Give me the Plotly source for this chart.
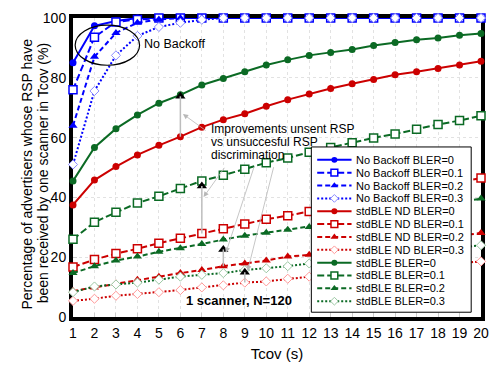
import plotly.graph_objects as go

x = list(range(1, 21))

nb0 = [85, 97.4, 99, 100] + [100] * 16
nb1 = [76, 93.6, 98.7, 99.5] + [100] * 16
nb2 = [64, 87, 95, 98.4, 99.5] + [100] * 15
nb3 = [51, 75.6, 87.5, 94, 97, 98.4, 99.4] + [100] * 13

nd0 = [37.5, 45.8, 50.3, 54.2, 57.4, 60.3, 63.5, 66, 68, 70.5, 72.7, 74.6, 76.4, 78, 79.4, 81, 82, 83.1, 84.3, 85.5]
nd1 = [16.7, 19.2, 21.2, 22.8, 24.7, 26.3, 27.9, 29.5, 31.1, 32.7, 33.9, 35.3, 36.7, 38.1, 39.5, 40.9, 42.3, 43.7, 45.1, 46.5]
nd2 = [8.7, 9.9, 11.2, 12.5, 13.5, 14.7, 15.7, 17, 17.9, 18.9, 20.2, 20.8, 21.7, 22.6, 23.5, 24.5, 25.4, 26.3, 27.2, 28.1]
nd3 = [5.4, 6.1, 7.1, 7.7, 8.3, 9, 9.9, 10.6, 11.5, 11.9, 12.8, 13.5, 14.1, 14.8, 15.4, 16.1, 16.7, 17.3, 18, 18.6]

sb0 = [45.5, 56.7, 63, 67.6, 71.5, 74.3, 77.6, 79.8, 82, 84.3, 86, 87.5, 88.5, 89.5, 90.8, 91.8, 92.7, 93.3, 94.2, 94.8]
sb1 = [26, 31.7, 35, 38.1, 40.4, 43, 45.5, 47.4, 49.4, 51.6, 53.2, 55.1, 56.7, 58.3, 59.9, 61.2, 62.8, 64.4, 65.7, 67.3]
sb2 = [14.7, 17, 18.9, 20.2, 21.8, 23, 24.4, 25.9, 27.2, 28.2, 29.2, 30.1, 31.3, 32.4, 33.6, 34.8, 36, 37.2, 38.4, 39.6]
sb3 = [8.3, 10.2, 10.9, 11.5, 12.5, 13.5, 14.1, 14.7, 15.7, 16.3, 17, 17.9, 18.7, 19.4, 20.2, 20.9, 21.7, 22.5, 23.2, 24]

names = ["No Backoff BLER=0", "No Backoff BLER=0.1", "No Backoff BLER=0.2", "No Backoff BLER=0.3",
         "stdBLE ND BLER=0", "stdBLE ND BLER=0.1", "stdBLE ND BLER=0.2", "stdBLE ND BLER=0.3",
         "stdBLE BLER=0", "stdBLE BLER=0.1", "stdBLE BLER=0.2", "stdBLE BLER=0.3"]
series = [nb0, nb1, nb2, nb3, nd0, nd1, nd2, nd3, sb0, sb1, sb2, sb3]

# improvement arrows
arrow_x = [6, 7, 8, 9]
arrow_from = [nd0, nd1, nd2, nd3]
arrow_to_head = [73.8, 43.8, 22.6, 15.0]

BLUE, RED, GREEN = "#0000ff", "#cc0000", "#0b6a24"
LIGHT = {BLUE: "#8c8cff", RED: "#ff9a9a", GREEN: "#9cc8a4"}
colors = [BLUE] * 4 + [RED] * 4 + [GREEN] * 4

styles = [
    dict(dash="solid", symbol="circle", size=7, open=False),
    dict(dash="7px,3px", symbol="square", size=8, open=True),
    dict(dash="5px,3px", symbol="triangle-up", size=8, open=False),
    dict(dash="2px,2px", symbol="diamond", size=7, open=True),
]

FONT = "Liberation Sans, Arial, sans-serif"
fig = go.Figure()


def marker_for(i, scale=1.0):
    c = colors[i]
    st = styles[i % 4]
    if st["open"]:
        return dict(symbol=st["symbol"], size=st["size"] * scale, color="white",
                    line=dict(color=(LIGHT[c] if i % 4 == 3 else c), width=(1.0 if i % 4 == 3 else 1.5)))
    return dict(symbol=st["symbol"], size=st["size"] * scale, color=c, line=dict(width=0))


for i, (nm, ys) in enumerate(zip(names, series)):
    fig.add_trace(go.Scatter(x=x, y=ys, name=nm, mode="lines+markers", showlegend=False,
                             line=dict(color=colors[i], width=2, dash=styles[i % 4]["dash"]),
                             marker=marker_for(i), cliponaxis=False))

shapes = []
for ax_, src, hy in zip(arrow_x, arrow_from, arrow_to_head):
    shapes.append(dict(type="line", xref="x", yref="y", x0=ax_, x1=ax_,
                       y0=src[ax_ - 1], y1=hy, line=dict(color="#bdbdbd", width=1.5), layer="above"))
fig.add_trace(go.Scatter(x=arrow_x, y=arrow_to_head, mode="markers", showlegend=False,
                         marker=dict(symbol="triangle-up", size=9, color="black"), hoverinfo="skip",
                         cliponaxis=False))

shapes.append(dict(type="circle", xref="x", yref="y", x0=1.1, x1=4.1, y0=84.2, y1=97.6,
                   line=dict(color="black", width=1.2)))

annotations = []
annotations.append(dict(x=4.2, y=91.3, xref="x", yref="y", text="No Backoff", showarrow=False,
                        xanchor="left", font=dict(family=FONT, size=12.5, color="black")))
imp_lines = ["Improvements unsent RSP", "vs unsuccesful RSP", "discrimination"]
imp_y = [62.8, 58.5, 54.2]
for t, yy in zip(imp_lines, imp_y):
    annotations.append(dict(x=7.35, y=yy, xref="x", yref="y", text=t, showarrow=False,
                            xanchor="left", font=dict(family=FONT, size=12, color="black")))

# pointer lines from text to arrows (head, tail)
ptr_head = [(6.12, 67.9), (7.08, 40.1), (8.12, 21.5), (9.13, 15.4)]
ptr_tail = [(7.25, 62.0), (8.1, 50.4), (9.45, 50.6), (10.36, 50.6)]
for (hx, hy), (tx, ty) in zip(ptr_head, ptr_tail):
    annotations.append(dict(x=hx, y=hy, ax=tx, ay=ty, xref="x", yref="y", axref="x", ayref="y",
                            text="", showarrow=True, arrowhead=2, arrowsize=1.3, arrowwidth=0.8,
                            arrowcolor="#b8b8b8"))

annotations.append(dict(x=8.72, y=5.4, xref="x", yref="y", text="<b>1 scanner, N=120</b>",
                        showarrow=False, font=dict(family=FONT, size=13, color="black")))

# ---- custom legend on an overlay axis measured in pixels ----
LX0, LX1, LY0, LY1 = 316, 479, 147, 320
fig.add_trace(go.Scatter(x=[LX0, LX1, LX1, LX0, LX0], y=[LY0, LY0, LY1, LY1, LY0], mode="lines",
                         fill="toself", fillcolor="white", line=dict(color="black", width=1),
                         xaxis="x2", yaxis="y2", showlegend=False, hoverinfo="skip"))
for i, nm in enumerate(names):
    yc = 160.5 + i * 13.45
    fig.add_trace(go.Scatter(x=[322, 339.5, 357], y=[yc, yc, yc], mode="lines",
                             line=dict(color=colors[i], width=2, dash=styles[i % 4]["dash"]),
                             xaxis="x2", yaxis="y2", showlegend=False, hoverinfo="skip"))
    fig.add_trace(go.Scatter(x=[339.5], y=[yc], mode="markers", marker=marker_for(i, 0.85),
                             xaxis="x2", yaxis="y2", showlegend=False, hoverinfo="skip"))
    annotations.append(dict(x=360, y=yc, xref="x2", yref="y2", text=nm, showarrow=False,
                            xanchor="left", yanchor="middle",
                            font=dict(family=FONT, size=11, color="black")))

# y-axis title as two rotated lines
ytitle = ["Percentage of advertisers whose RSP have", "been received by one scanner in Tcov (%)"]
for t, px in zip(ytitle, [26, 42]):
    annotations.append(dict(x=(px - 73) / 416, y=(325 - 175) / 313, xref="paper", yref="paper",
                            text=t, textangle=-90, showarrow=False, xanchor="center", yanchor="middle",
                            font=dict(family=FONT, size=14, color="black")))

fig.update_layout(
    width=499, height=371,
    margin=dict(l=73, r=10, t=12, b=46),
    paper_bgcolor="white", plot_bgcolor="white",
    font=dict(family=FONT, size=14, color="black"),
    shapes=shapes, annotations=annotations, showlegend=False,
    xaxis2=dict(overlaying="x", anchor="y2", range=[73, 489], visible=False, fixedrange=True),
    yaxis2=dict(overlaying="y", anchor="x2", range=[325, 12], visible=False, fixedrange=True),
    xaxis=dict(range=[1, 20], tickvals=x, showline=True, linecolor="black", linewidth=4,
               mirror=True, showgrid=True, gridcolor="#e2e2e2", griddash="dot", gridwidth=1,
               ticks="inside", ticklen=4, tickcolor="#cccccc", zeroline=False, layer="below traces",
               title=dict(text="Tcov (s)", font=dict(size=15), standoff=10),
               tickfont=dict(size=14)),
    yaxis=dict(range=[0, 100], tickvals=[0, 20, 40, 60, 80, 100], showline=True, linecolor="black",
               linewidth=4, mirror=True, showgrid=True, gridcolor="#e2e2e2", griddash="dot",
               ticks="inside", ticklen=4, tickcolor="#cccccc", zeroline=False, layer="below traces",
               tickfont=dict(size=14)),
)

fig.write_html("out.html")
